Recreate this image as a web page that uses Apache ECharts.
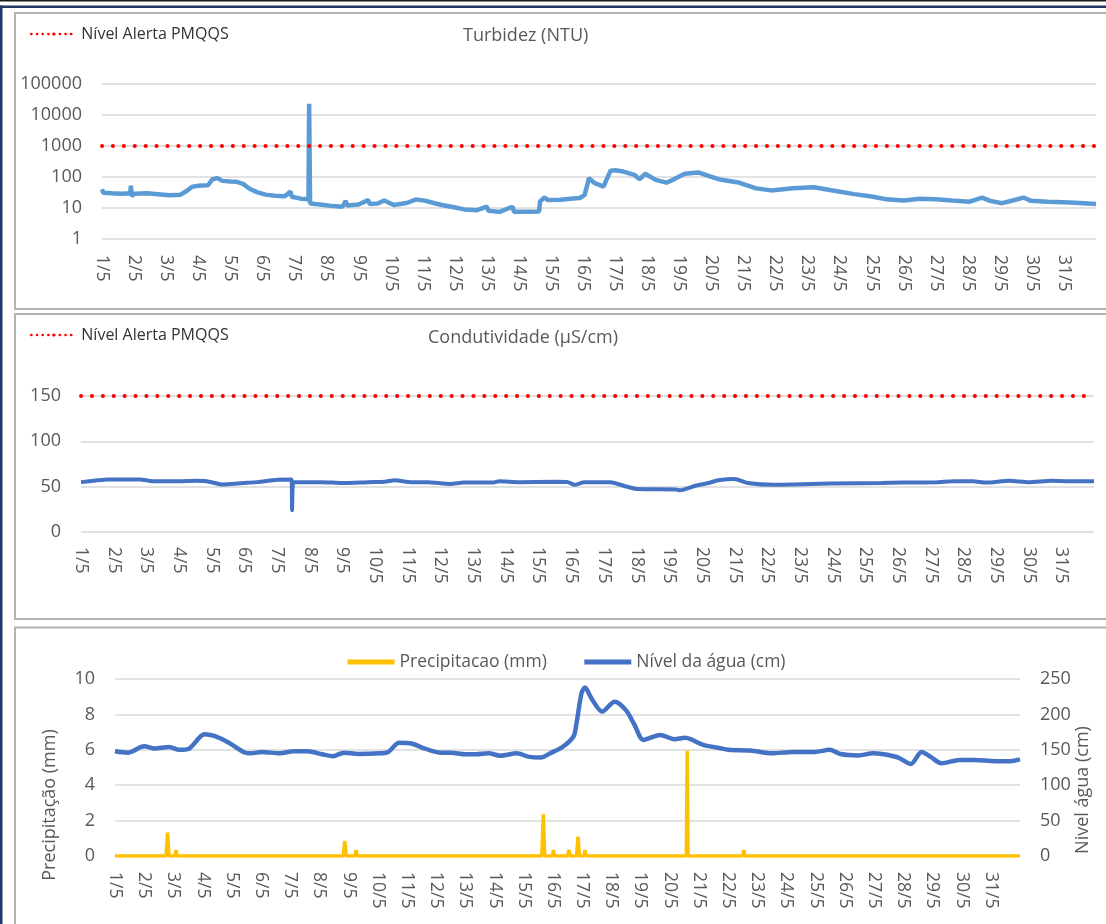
<!DOCTYPE html>
<html>
<head>
<meta charset="utf-8">
<script src="https://cdn.jsdelivr.net/npm/echarts@6/dist/echarts.min.js"></script>
<style>
  html, body { margin: 0; padding: 0; background: #fff; }
  #grafico { width: 1106px; height: 924px; }
</style>
</head>
<body>
<div id="grafico"></div>
<script>
// rótulos dos dias (eixo x)
var dias = ['1/5', '2/5', '3/5', '4/5', '5/5', '6/5', '7/5', '8/5', '9/5', '10/5',
  '11/5', '12/5', '13/5', '14/5', '15/5', '16/5', '17/5', '18/5', '19/5', '20/5',
  '21/5', '22/5', '23/5', '24/5', '25/5', '26/5', '27/5', '28/5', '29/5', '30/5', '31/5'];

// Turbidez (NTU) - posição em dias desde 1/5
var turbDias = [0, 0.04, 0.3, 0.6, 0.88, 0.9, 0.93, 1.0, 1.4, 1.75, 2.1, 2.45, 2.65, 2.8, 3.0, 3.3,
  3.45, 3.6, 3.75, 4.0, 4.2, 4.4, 4.6, 4.85, 5.1, 5.4, 5.7, 5.88, 5.92, 6.2, 6.44, 6.46, 6.49,
  6.8, 7.2, 7.5, 7.6, 7.65, 8.0, 8.3, 8.35, 8.6, 8.8, 9.1, 9.5, 9.8, 10.1, 10.4, 10.6, 10.9,
  11.3, 11.7, 12.0, 12.05, 12.4, 12.8, 12.85, 13.3, 13.63, 13.66, 13.8, 13.9, 14.3, 14.6, 14.9,
  15.05, 15.19, 15.35, 15.64, 15.86, 16.0, 16.26, 16.6, 16.77, 16.94, 17.27, 17.6, 17.7, 18.17,
  18.6, 18.96, 19.3, 19.86, 20.4, 20.87, 21.55, 22.2, 22.7, 23.46, 24.0, 24.47, 25.0, 25.5,
  26.0, 26.5, 27.06, 27.45, 27.7, 28.07, 28.4, 28.74, 28.97, 29.5, 29.98, 30.5, 31];
var turbValores = [40, 31, 30, 29, 30, 52, 24, 29, 30, 28, 26, 27, 36, 48, 52, 54,
  85, 92, 75, 72, 70, 60, 42, 32, 27, 25, 24, 34, 23, 20, 19, 23000, 14,
  13, 11.5, 11, 17, 12, 13, 18, 13.5, 14, 17.5, 12.5, 14.5, 19, 17, 14, 12.5, 11,
  9, 8.5, 11, 8.2, 7.5, 11, 7.6, 7.5, 7.7, 16, 22, 18, 18.5, 20, 21,
  26, 92, 65, 49, 160, 165, 150, 117, 85, 127, 81, 66, 72, 127,
  140, 104, 81, 66, 43, 37, 43, 47, 38, 28, 23.4, 19, 17.5, 20,
  19, 17.5, 16, 21.7, 17, 14.3, 17.5, 21.7, 17, 16, 15.3, 14.5, 13.5];

// Condutividade (µS/cm)
var condDias = [0, 0.5, 0.8, 1.8, 2.2, 3.0, 3.5, 3.85, 4.3, 4.95, 5.4, 6.0, 6.44, 6.46, 6.5,
  7.35, 8.0, 8.8, 9.3, 9.6, 10.1, 10.6, 11.3, 11.7, 12.6, 12.8, 13.4, 14.5, 14.9, 15.1, 15.4,
  16.2, 16.7, 17.0, 18.2, 18.34, 18.8, 19.2, 19.5, 20.0, 20.4, 21.2, 21.8, 22.9, 24.5,
  25.1, 26.2, 26.7, 27.3, 27.7, 28.4, 29.0, 29.7, 30.2, 31];
var condValores = [55, 57, 58, 58, 56, 56, 56.5, 56, 52.5, 54, 55, 57.5, 58, 24, 55,
  55, 54, 55, 55.5, 57, 55, 55, 53, 54.5, 54.5, 56, 55, 55.5, 55, 52, 55,
  55, 50, 47.5, 47, 46, 51, 54, 57, 58.5, 54, 52, 52.5, 53.5, 54,
  54.5, 55, 56, 56, 54.5, 56.5, 55, 56.5, 56, 56];

// Precipitação (mm)
var precDias = [0, 1.75, 1.8, 1.85, 2.05, 2.09, 2.13, 7.82, 7.87, 7.92, 8.22, 8.26, 8.3,
  14.62, 14.67, 14.72, 14.98, 15.02, 15.06, 15.5, 15.55, 15.6, 15.81, 15.86, 15.91,
  16.06, 16.1, 16.14, 19.57, 19.6, 19.63, 21.5, 21.54, 21.58, 31];
var precValores = [0, 0, 1.32, 0, 0, 0.34, 0, 0, 0.85, 0, 0, 0.34, 0,
  0, 2.35, 0, 0, 0.34, 0, 0, 0.34, 0, 0, 1.09, 0,
  0, 0.34, 0, 0, 5.95, 0, 0, 0.34, 0, 0];

// Nível da água (cm)
var nivelDias = [0, 0.44, 1.0, 1.36, 1.85, 2.2, 2.5, 3.07, 3.4, 3.9, 4.4, 4.66, 5.02, 5.64,
  6.12, 6.6, 7.1, 7.47, 7.84, 8.33, 9.06, 9.36, 9.73, 10.16, 10.5, 11.14, 11.5, 12.0, 12.36,
  12.79, 13.2, 13.76, 14.19, 14.57, 14.95, 15.33, 15.7, 15.8, 15.98, 16.1, 16.32, 16.69,
  17.12, 17.5, 17.8, 18.1, 18.67, 19.16, 19.53, 19.72, 20.15, 20.65, 21.02, 21.76, 22.5,
  23.24, 23.98, 24.48, 24.85, 25.47, 25.96, 26.33, 26.83, 27.26, 27.63, 27.94, 28.31,
  28.93, 29.42, 30.16, 30.66, 31];
var nivelValores = [148, 146, 155, 152, 154, 150, 151, 172, 169.5, 160, 147, 145, 147, 145,
  148, 148, 143.6, 141, 146, 144, 145, 147, 160, 159, 153.5, 146, 146, 143.6, 143.6,
  145, 141.7, 145, 140, 139, 146, 154, 168.5, 185, 230, 238, 222.7, 204,
  218, 206, 185, 164, 171, 165, 167, 165, 157, 153, 150, 149, 145,
  147, 147, 150, 144, 142, 145, 143.6, 139, 130, 147, 140, 131,
  135.6, 135.6, 134, 134, 136.5];

// níveis de alerta PMQQS
var alertaTurbidez = 1000;
var alertaCondutividade = 150;

var fonte = "'Open Sans', sans-serif";
var cinzaTexto = '#595959';
var cinzaGrelha = '#d9d9d9';

function pares (xs, ys) {
  return xs.map(function (x, i) { return [x, ys[i]]; });
}

function eixoX (grid, margem) {
  return {
    type: 'value',
    gridIndex: grid,
    min: 0,
    max: 31,
    interval: 1,
    axisLine: { show: false },
    axisTick: { show: false },
    splitLine: { show: false },
    axisLabel: {
      rotate: -90,
      margin: margem,
      color: cinzaTexto,
      fontSize: 17.5,
      fontFamily: fonte,
      formatter: function (v) { return dias[v] || ''; }
    }
  };
}

function eixoY (grid, extra) {
  var eixo = {
    gridIndex: grid,
    type: 'value',
    axisLine: { show: false },
    axisTick: { show: false },
    axisLabel: { margin: 20, color: cinzaTexto, fontSize: 18, fontFamily: fonte },
    splitLine: { lineStyle: { color: cinzaGrelha, width: 1.5 } }
  };
  for (var k in extra) eixo[k] = extra[k];
  return eixo;
}

var myChart = echarts.init(document.getElementById('grafico'));

var option = {
  animation: false,
  backgroundColor: '#fff',
  graphic: [
    { type: 'rect', shape: { x: 0, y: 0, width: 1106, height: 1.5 }, style: { fill: '#1a1a1a' } },
    { type: 'rect', shape: { x: 0, y: 5.5, width: 1106, height: 2.5 }, style: { fill: '#1f3864' } },
    { type: 'rect', shape: { x: 0, y: 5.5, width: 2.5, height: 920 }, style: { fill: '#1f3864' } },
    { type: 'rect', shape: { x: 15, y: 13, width: 1100, height: 296 }, style: { fill: 'none', stroke: '#b4b4b4', lineWidth: 2 } },
    { type: 'rect', shape: { x: 15, y: 314, width: 1100, height: 305 }, style: { fill: 'none', stroke: '#b4b4b4', lineWidth: 2 } },
    { type: 'rect', shape: { x: 15, y: 627.5, width: 1100, height: 310 }, style: { fill: 'none', stroke: '#b4b4b4', lineWidth: 2 } },
    {
      type: 'text', x: 50, y: 805, rotation: Math.PI / 2,
      style: { text: 'Precipitação (mm)', fill: cinzaTexto, font: '18px ' + fonte, align: 'center', verticalAlign: 'middle' }
    },
    {
      type: 'text', x: 1083, y: 790, rotation: Math.PI / 2,
      style: { text: 'Nivel água (cm)', fill: cinzaTexto, font: '18px ' + fonte, align: 'center', verticalAlign: 'middle' }
    }
  ],
  title: [
    { text: 'Turbidez (NTU)', left: 463, top: 27, padding: 0, textStyle: { color: cinzaTexto, fontSize: 18, fontWeight: 'normal', fontFamily: fonte } },
    { text: 'Condutividade (µS/cm)', left: 428, top: 329, padding: 0, textStyle: { color: cinzaTexto, fontSize: 18, fontWeight: 'normal', fontFamily: fonte } }
  ],
  legend: [
    {
      left: 30, top: 26, padding: 0, itemWidth: 45, itemHeight: 4, itemGap: 8,
      data: ['Nível Alerta PMQQS'],
      lineStyle: { type: [0.1, 5.6], width: 2.6, cap: 'round' },
      textStyle: { color: '#333', fontSize: 16, fontFamily: fonte }
    },
    {
      left: 30, top: 327, padding: 0, itemWidth: 45, itemHeight: 4, itemGap: 8,
      data: ['Nível Alerta PMQQS'],
      lineStyle: { type: [0.1, 5.6], width: 2.6, cap: 'round' },
      textStyle: { color: '#333', fontSize: 16, fontFamily: fonte }
    },
    {
      left: 345, top: 653, padding: 0, itemWidth: 47, itemHeight: 5, itemGap: 35,
      data: ['Precipitacao (mm)', 'Nível da água (cm)'],
      lineStyle: { width: 5 },
      textStyle: { color: cinzaTexto, fontSize: 17.5, fontFamily: fonte }
    }
  ],
  grid: [
    { left: 102, top: 84, width: 994, height: 155 },
    { left: 81, top: 396, width: 1013, height: 136 },
    { left: 115, top: 679, width: 905, height: 177 }
  ],
  xAxis: [eixoX(0, 16), eixoX(1, 15), eixoX(2, 16)],
  yAxis: [
    eixoY(0, {
      type: 'log', logBase: 10, min: 1, max: 100000,
      axisLabel: {
        margin: 20, color: cinzaTexto, fontSize: 18, fontFamily: fonte,
        formatter: function (v) { return String(Math.round(v)); }
      }
    }),
    eixoY(1, { min: 0, max: 150, interval: 50 }),
    eixoY(2, { min: 0, max: 10, interval: 2 }),
    eixoY(2, { min: 0, max: 250, interval: 50, position: 'right', splitLine: { show: false } })
  ],
  series: [
    {
      name: 'Turbidez (NTU)', type: 'line', xAxisIndex: 0, yAxisIndex: 0,
      showSymbol: false, symbol: 'none',
      lineStyle: { color: '#5b9bd5', width: 4.5 }, itemStyle: { color: '#5b9bd5' },
      data: pares(turbDias, turbValores)
    },
    {
      name: 'Nível Alerta PMQQS', type: 'line', xAxisIndex: 0, yAxisIndex: 0,
      showSymbol: false, symbol: 'none', z: 3,
      lineStyle: { color: '#ff0000', width: 4, type: [0.1, 10.8], cap: 'round' }, itemStyle: { color: '#ff0000' },
      data: pares([0, 31], [alertaTurbidez, alertaTurbidez])
    },
    {
      name: 'Condutividade (µS/cm)', type: 'line', xAxisIndex: 1, yAxisIndex: 1,
      showSymbol: false, symbol: 'none', smooth: 0.2,
      lineStyle: { color: '#4472c4', width: 4 }, itemStyle: { color: '#4472c4' },
      data: pares(condDias, condValores)
    },
    {
      name: 'Nível Alerta PMQQS', type: 'line', xAxisIndex: 1, yAxisIndex: 1,
      showSymbol: false, symbol: 'none', z: 3,
      lineStyle: { color: '#ff0000', width: 4, type: [0.1, 10.8], cap: 'round' }, itemStyle: { color: '#ff0000' },
      data: pares([0, 31], [alertaCondutividade, alertaCondutividade])
    },
    {
      name: 'Precipitacao (mm)', type: 'line', xAxisIndex: 2, yAxisIndex: 2,
      showSymbol: false, symbol: 'none',
      lineStyle: { color: '#ffc000', width: 3.5 }, itemStyle: { color: '#ffc000' },
      data: pares(precDias, precValores)
    },
    {
      name: 'Nível da água (cm)', type: 'line', xAxisIndex: 2, yAxisIndex: 3,
      showSymbol: false, symbol: 'none', smooth: 0.3,
      lineStyle: { color: '#4472c4', width: 4.5 }, itemStyle: { color: '#4472c4' },
      data: pares(nivelDias, nivelValores)
    }
  ]
};

myChart.setOption(option);
</script>
</body>
</html>
